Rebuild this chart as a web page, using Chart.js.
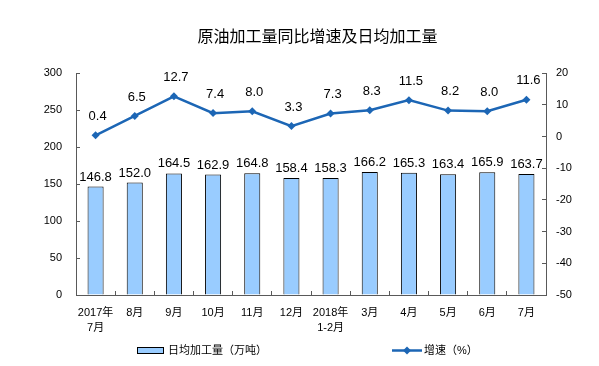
<!DOCTYPE html>
<html>
<head>
<meta charset="utf-8">
<script src="https://cdn.jsdelivr.net/npm/chart.js@4.4.1/dist/chart.umd.min.js"></script>
<style>
  html, body { margin: 0; padding: 0; background: #fff; }
  #box { width: 599px; height: 366px; }
</style>
</head>
<body>
<div id="box"><canvas id="myChart" width="599" height="366"></canvas></div>
<script>
const months = [["2017年", "7月"], "8月", "9月", "10月", "11月", "12月", ["2018年", "1-2月"], "3月", "4月", "5月", "6月", "7月"];
const dailyOutput = [146.8, 152.0, 164.5, 162.9, 164.8, 158.4, 158.3, 166.2, 165.3, 163.4, 165.9, 163.7];
const growthRate = [0.4, 6.5, 12.7, 7.4, 8.0, 3.3, 7.3, 8.3, 11.5, 8.2, 8.0, 11.6];
const barName = "日均加工量（万吨）";
const lineName = "增速（%）";

const FONT = "'Liberation Sans', 'Noto Sans CJK SC', sans-serif";
const barColor = "#99CCFF";
const lineColor = "#1C66B5";
const axisColor = "#595959";

// value labels above bars and points
const valueLabels = {
  id: "valueLabels",
  afterDatasetsDraw(chart) {
    const ctx = chart.ctx;
    ctx.save();
    ctx.fillStyle = "#000";
    ctx.font = "13px " + FONT;
    ctx.textAlign = "center";
    chart.getDatasetMeta(0).data.forEach((el, i) => {
      ctx.textBaseline = "bottom";
      ctx.fillText(dailyOutput[i].toFixed(1), el.x, el.y - 3);
    });
    chart.getDatasetMeta(1).data.forEach((el, i) => {
      ctx.textBaseline = "middle";
      ctx.fillText(growthRate[i].toFixed(1), el.x + 2, el.y - 19);
    });
    ctx.restore();
  }
};

// legend under the chart
const bottomLegend = {
  id: "bottomLegend",
  afterDraw(chart) {
    const ctx = chart.ctx;
    ctx.save();
    ctx.fillStyle = barColor;
    ctx.fillRect(137, 347, 27, 6);
    ctx.strokeStyle = "#000";
    ctx.lineWidth = 1;
    ctx.strokeRect(137.5, 347.5, 26, 6);
    ctx.strokeStyle = lineColor;
    ctx.lineWidth = 2.5;
    ctx.beginPath();
    ctx.moveTo(392, 350.5);
    ctx.lineTo(422, 350.5);
    ctx.stroke();
    ctx.fillStyle = lineColor;
    ctx.beginPath();
    ctx.moveTo(407, 346.5);
    ctx.lineTo(411, 350.5);
    ctx.lineTo(407, 354.5);
    ctx.lineTo(403, 350.5);
    ctx.closePath();
    ctx.fill();
    ctx.fillStyle = "#000";
    ctx.font = "11px " + FONT;
    ctx.textBaseline = "middle";
    ctx.textAlign = "left";
    ctx.fillText(barName, 168, 351);
    ctx.fillText(lineName, 424, 351);
    ctx.restore();
  }
};

const ctx = document.getElementById("myChart").getContext("2d");
const myChart = new Chart(ctx, {
  type: "bar",
  data: {
    labels: months,
    datasets: [
      {
        type: "bar",
        label: barName,
        data: dailyOutput,
        yAxisID: "y",
        backgroundColor: barColor,
        borderColor: "#000",
        borderWidth: 1,
        barPercentage: 0.41,
        categoryPercentage: 1,
        order: 1
      },
      {
        type: "line",
        label: lineName,
        data: growthRate,
        yAxisID: "y1",
        borderColor: lineColor,
        backgroundColor: lineColor,
        borderWidth: 2.5,
        pointStyle: "rectRot",
        pointRadius: 4,
        pointBorderWidth: 0,
        tension: 0,
        order: 0
      }
    ]
  },
  options: {
    responsive: false,
    animation: false,
    layout: {
      padding: { left: 36, right: 0, top: 0, bottom: 31 }
    },
    plugins: {
      title: {
        display: true,
        text: "原油加工量同比增速及日均加工量",
        color: "#000",
        font: { family: "'Noto Sans CJK SC', sans-serif", size: 16, weight: "normal" },
        padding: { top: 26, bottom: 28 }
      },
      legend: { display: false },
      tooltip: { enabled: false }
    },
    scales: {
      x: {
        grid: { drawOnChartArea: false, tickLength: -4, color: axisColor },
        border: { color: axisColor },
        ticks: {
          color: "#000",
          padding: 15,
          maxRotation: 0,
          autoSkip: false,
          font: { family: FONT, size: 11, lineHeight: 1.35 }
        },
        afterFit(scale) { scale.height = 40; }
      },
      y: {
        position: "left",
        min: 0,
        max: 300,
        grid: { drawOnChartArea: false, tickLength: -4, color: axisColor },
        border: { color: axisColor },
        ticks: { stepSize: 50, color: "#000", padding: 18, font: { family: FONT, size: 11 } },
        afterFit(scale) { scale.width = 40; }
      },
      y1: {
        position: "right",
        min: -50,
        max: 20,
        grid: { drawOnChartArea: false, tickLength: -4, color: axisColor },
        border: { color: axisColor },
        ticks: { stepSize: 10, color: "#000", padding: 14, font: { family: FONT, size: 11 } },
        afterFit(scale) { scale.width = 53; }
      }
    }
  },
  plugins: [valueLabels, bottomLegend]
});
</script>
</body>
</html>
